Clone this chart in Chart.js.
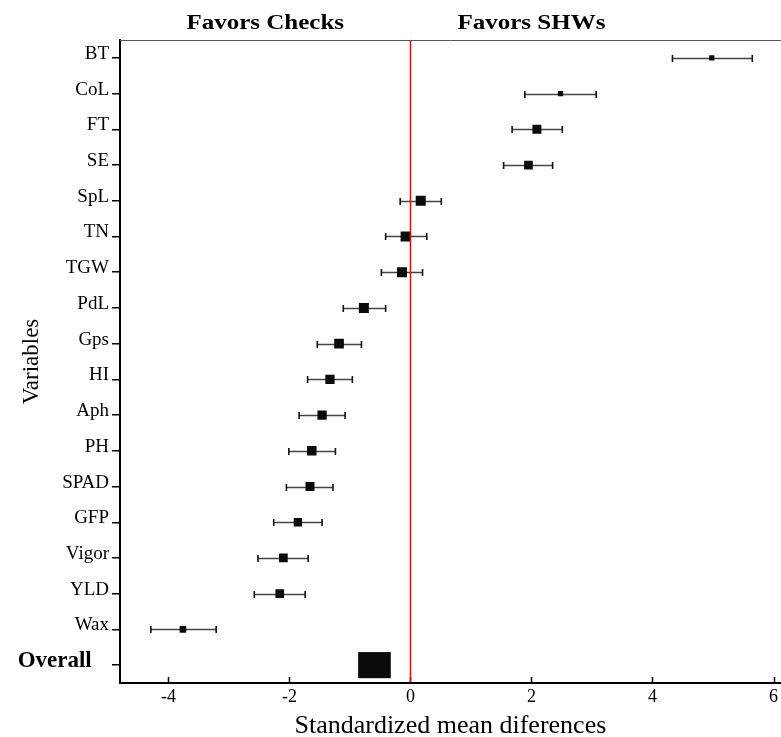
<!DOCTYPE html>
<html>
<head>
<meta charset="utf-8">
<script src="https://cdn.jsdelivr.net/npm/chart.js@4/dist/chart.umd.min.js"></script>
<style>
  html, body { margin: 0; padding: 0; background: #fff; }
  #wrap { width: 781px; height: 737px; }
</style>
</head>
<body>
<div id="wrap"><canvas id="forest"></canvas></div>
<script>
// effect sizes, top row first
const variables = ["BT", "CoL", "FT", "SE", "SpL", "TN", "TGW", "PdL", "Gps", "HI", "Aph", "PH", "SPAD", "GFP", "Vigor", "YLD", "Wax", "Overall"];
const estimate = [4.98, 2.48, 2.09, 1.95, 0.17, -0.08, -0.14, -0.77, -1.18, -1.33, -1.46, -1.63, -1.66, -1.86, -2.10, -2.16, -3.76, -0.59];
const lower = [4.33, 1.89, 1.68, 1.54, -0.17, -0.41, -0.48, -1.11, -1.54, -1.70, -1.84, -2.01, -2.05, -2.26, -2.52, -2.58, -4.29, -0.865];
const upper = [5.65, 3.07, 2.51, 2.35, 0.51, 0.27, 0.20, -0.41, -0.81, -0.96, -1.08, -1.24, -1.28, -1.46, -1.69, -1.74, -3.21, -0.325];
// relative study weight (square size)
const weight = [0.53, 0.53, 0.9, 0.87, 1.0, 1.0, 1.0, 1.0, 0.97, 0.93, 0.93, 0.95, 0.9, 0.83, 0.87, 0.87, 0.66];
const xTicks = [-4, -2, 0, 2, 4, 6];

const serif = "'Liberation Serif', 'Times New Roman', serif";
const studies = variables.slice(0, -1);
const last = variables.length - 1;

const forestPlugin = {
  id: "forest",
  beforeDatasetsDraw(chart) {
    const { ctx, chartArea: a, scales: { x, y } } = chart;
    ctx.save();
    // top frame line
    ctx.strokeStyle = "#555";
    ctx.lineWidth = 1;
    ctx.beginPath();
    ctx.moveTo(a.left, a.top + 0.5);
    ctx.lineTo(a.right, a.top + 0.5);
    ctx.stroke();

    // x ticks pointing inwards
    ctx.strokeStyle = "#000";
    ctx.lineWidth = 1.5;
    ctx.beginPath();
    x.ticks.forEach((t, i) => {
      const px = Math.round(x.getPixelForTick(i)) + 0.5;
      ctx.moveTo(px, a.bottom);
      ctx.lineTo(px, a.bottom - 6);
    });
    ctx.stroke();

    // confidence intervals
    studies.forEach((v, i) => {
      const py = Math.round(y.getPixelForValue(i)) + 0.5;
      const x1 = x.getPixelForValue(lower[i]);
      const x2 = x.getPixelForValue(upper[i]);
      ctx.strokeStyle = "#444";
      ctx.lineWidth = 1.6;
      ctx.beginPath();
      ctx.moveTo(x1, py);
      ctx.lineTo(x2, py);
      ctx.stroke();
      ctx.strokeStyle = "#111";
      ctx.beginPath();
      ctx.moveTo(x1, py - 3.5);
      ctx.lineTo(x1, py + 3.5);
      ctx.moveTo(x2, py - 3.5);
      ctx.lineTo(x2, py + 3.5);
      ctx.stroke();
    });

    // pooled estimate box
    const step = y.getPixelForValue(1) - y.getPixelForValue(0);
    const oy = y.getPixelForValue(last);
    const h = step * 0.73;
    const ox1 = x.getPixelForValue(lower[last]);
    const ox2 = x.getPixelForValue(upper[last]);
    ctx.fillStyle = "#0b0b0b";
    ctx.fillRect(ox1, oy - h / 2, ox2 - ox1, h);

    // header texts
    ctx.fillStyle = "#000";
    ctx.textAlign = "center";
    ctx.textBaseline = "alphabetic";
    ctx.font = "bold 20px " + serif;
    [["Favors Checks", -2.4], ["Favors SHWs", 2.0]].forEach(([txt, v]) => {
      ctx.save();
      ctx.translate(x.getPixelForValue(v), 29);
      ctx.scale(1.25, 1);
      ctx.fillText(txt, 0, 0);
      ctx.restore();
    });
    ctx.restore();
  },
  afterDatasetsDraw(chart) {
    const { ctx, chartArea: a, scales: { x } } = chart;
    const px = Math.round(x.getPixelForValue(0)) + 0.5;
    ctx.save();
    ctx.strokeStyle = "#ff0000";
    ctx.lineWidth = 1.5;
    ctx.beginPath();
    ctx.moveTo(px, a.top + 1);
    ctx.lineTo(px, a.bottom - 1);
    ctx.stroke();
    ctx.restore();
  }
};

new Chart(document.getElementById("forest"), {
  type: "scatter",
  data: {
    labels: variables,
    datasets: [{
      data: studies.map((v, i) => ({ x: estimate[i], y: v })),
      pointStyle: "rect",
      pointRadius: studies.map((v, i) => weight[i] * 10 / Math.SQRT2),
      pointBorderWidth: 0,
      backgroundColor: "#0b0b0b",
      borderColor: "#0b0b0b"
    }]
  },
  options: {
    responsive: true,
    maintainAspectRatio: false,
    animation: false,
    events: [],
    layout: { autoPadding: false, padding: { top: 40, right: 0, left: 0, bottom: 0 } },
    plugins: { legend: { display: false }, tooltip: { enabled: false } },
    scales: {
      x: {
        type: "linear",
        min: -4.8,
        max: 6.12,
        afterBuildTicks: (s) => { s.ticks = xTicks.map(v => ({ value: v })); },
        grid: { display: false, drawTicks: false },
        border: { display: true, color: "#000", width: 2 },
        ticks: {
          color: "#000",
          padding: 3,
          font: { family: serif, size: 18 }
        },
        title: {
          display: true,
          text: "Standardized mean diferences",
          color: "#000",
          font: { family: serif, size: 26, lineHeight: 0.8 },
          padding: { top: 0, bottom: 0 }
        },
        afterFit: (s) => { s.height = 54; }
      },
      y: {
        type: "category",
        labels: variables,
        offset: true,
        grid: { display: true, drawOnChartArea: false, tickLength: 8, color: "#000", lineWidth: 1.5 },
        border: { display: true, color: "#000", width: 2 },
        ticks: {
          color: "#000",
          padding: 3,
          labelOffset: -4,
          callback: (val, i) => i === last ? variables[i] + "   " : variables[i],
          font: (c) => c.index === last
            ? { family: serif, size: 23, weight: "bold" }
            : { family: serif, size: 19 }
        },
        title: {
          display: true,
          text: "Variables",
          color: "#000",
          font: { family: serif, size: 23 },
          padding: { top: 18, bottom: 0 }
        },
        afterFit: (s) => { s.width = 120; }
      }
    }
  },
  plugins: [forestPlugin]
});
</script>
</body>
</html>
